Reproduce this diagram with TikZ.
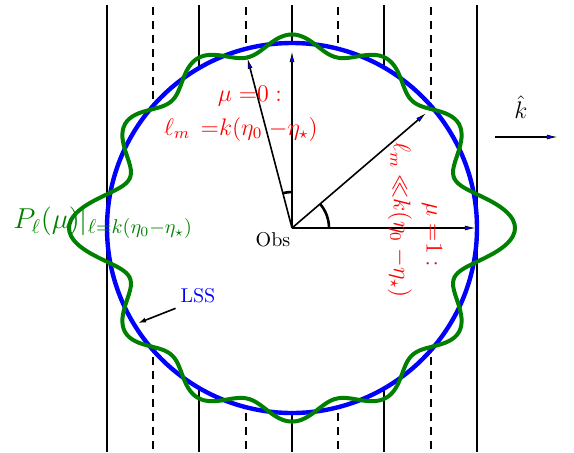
\documentclass[tikz,border=0pt]{standalone}
\usetikzlibrary{arrows.meta}
\begin{document}
\begin{tikzpicture}[x=0.5pt,y=0.5pt,
  wall/.style={line width=1pt},
  wallgap/.style={line width=1pt, dash pattern=on 4pt off 3pt},
  ray/.style={line width=0.8pt, -{Latex[length=5pt,width=2.4pt,fill=blue,line width=0.3pt]}},
  anglemark/.style={line width=1.3pt},
  redlabel/.style={text=red, font=\large, inner sep=0pt},
  lss/.style={blue, line width=2.2pt},
  wave/.style={green!50!black, line width=2pt}]
\useasboundingbox (-292,-224) rectangle (282,228);
\coordinate (O) at (0,0);
% vertical wave fronts
\foreach \xx in {-185,-92.5,0,92.5,185} \draw[wall] (\xx,223) -- (\xx,-224);
\foreach \xx in {-138.75,-46.25,46.25,138.75} \draw[wallgap] (\xx,221) -- (\xx,-224);
% last scattering surface
\fill[white] (O) circle[radius=185];
\draw[lss] (O) circle[radius=185];
% Legendre polynomial P_12
\draw[wave] plot[smooth cycle, samples=360, domain=0:359, variable=\t]
  (\t:{185+38*(0.322361*cos(12*\t)+0.168188*cos(10*\t)+0.132148*cos(8*\t)+0.115919*cos(6*\t)+0.107396*cos(4*\t)+0.103100*cos(2*\t)+0.050889)});
% rays from the observer
\coordinate (r0) at (0:183);
\coordinate (r40) at (40.6:176);
\coordinate (r90) at (90:176);
\coordinate (r104) at (104.7:175);
\draw[ray] (O) -- (r0);
\draw[ray] (O) -- (r40);
\draw[ray] (O) -- (r90);
\draw[ray] (O) -- (r104);
\draw[anglemark] (0:37) arc[start angle=0, end angle=40.6, radius=37];
\draw[anglemark] (90:36) arc[start angle=90, end angle=104.7, radius=36];
% labels
\node[redlabel] (mu0) at (-42,132) {$\mu\;{=}0\;{:}$};
\node[redlabel] (lm0) at (-51,99) {$\ell_m\;\,{=}k(\eta_0\;{-}\eta_\star)$};
\node[redlabel, rotate=-90] (lm1) at (108,8) {$\ell_m\;{\ll}k(\eta_0\;{-}\eta_\star)$};
\node[redlabel, rotate=-90] (mu1) at (140,-7) {$\mu\;{=}1\;{:}$};
\node (obs) at (-19,-12) {Obs};
\node[text=blue] (lsslabel) at (-94,-68) {LSS};
\coordinate (lsstip) at (211.7:181);
\draw[line width=0.8pt, -{Latex[length=4pt,width=2.5pt]}] (lsslabel.south west) ++(2,2) -- (lsstip);
\node[font=\large] (khat) at (229,121) {$\hat{k}$};
\coordinate (ka) at (203,91);
\coordinate (kb) at (265,91);
\draw[ray] (ka) -- (kb);
\node[text=green!50!black, font=\Large, anchor=west, inner sep=0pt] (pl) at (-279,5) {$P_\ell(\mu)|_{\ell=k(\eta_0-\eta_\star)}$};
\end{tikzpicture}
\end{document}
